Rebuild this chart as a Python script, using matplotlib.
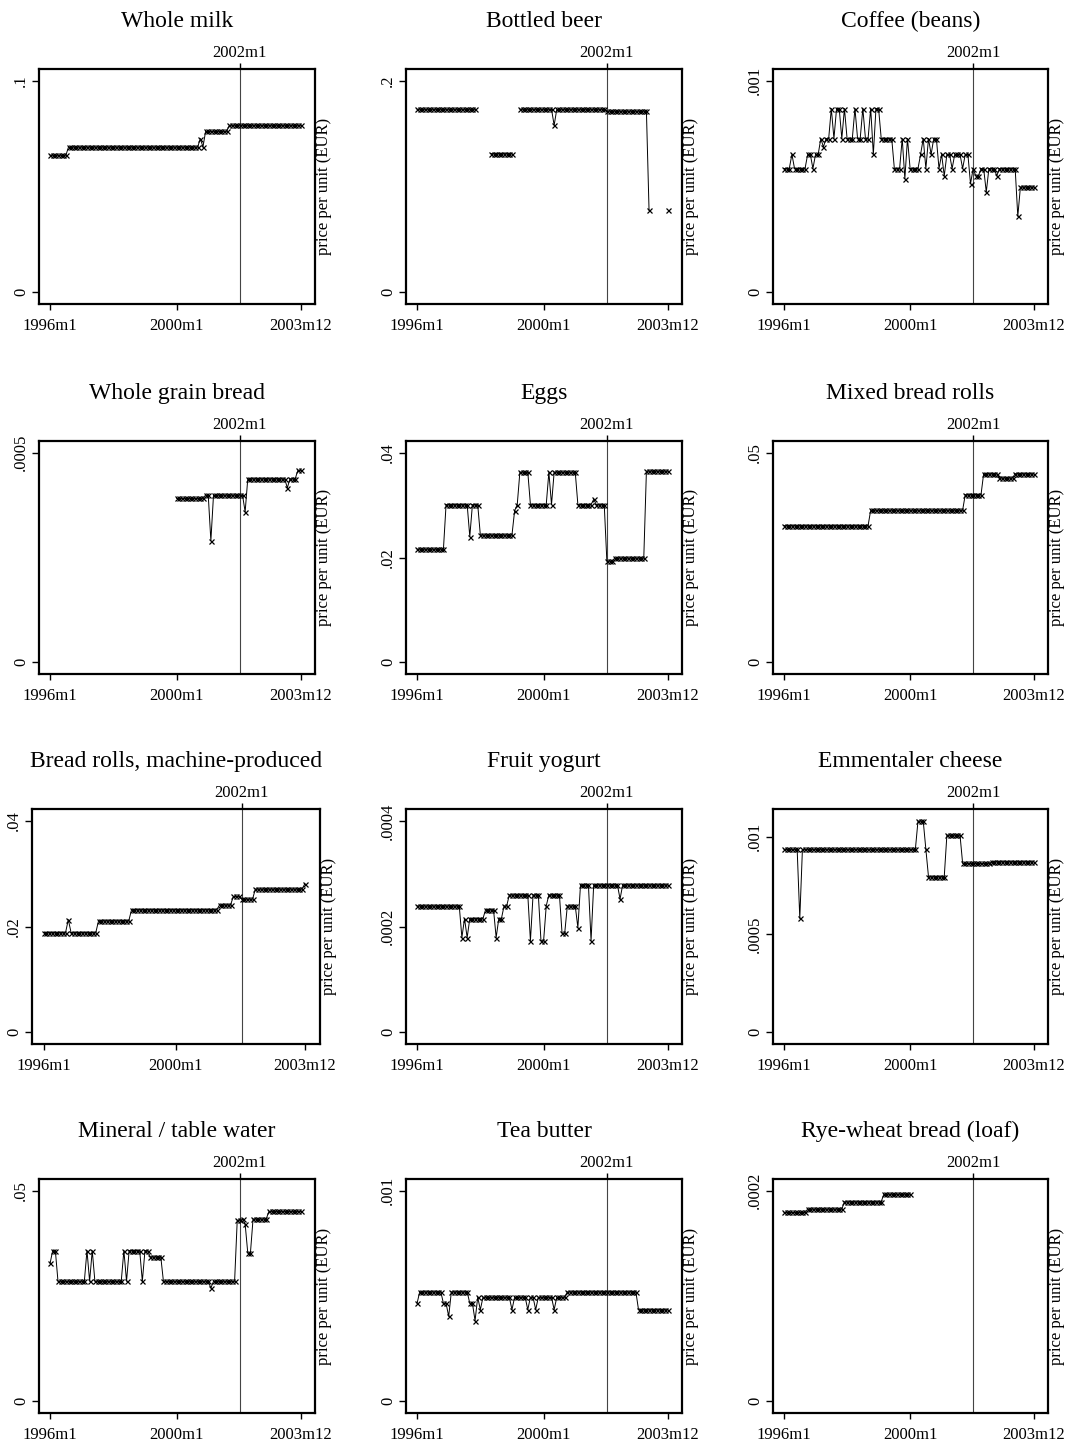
import numpy as np
import matplotlib
matplotlib.use('Agg')
import matplotlib.pyplot as plt

plt.rcParams['font.family'] = ['Liberation Serif', 'DejaVu Serif']

nan = np.nan
months = np.arange(96)  # 1996m1 .. 2003m12
month_ticks = [0, 48, 95]
month_labels = ['1996m1', '2000m1', '2003m12']
euro_month = 72  # 2002m1

# price levels and how many months each level lasts
milk_lvl = [0.0648, 0.0687, 0.0727, 0.0687, 0.0761, 0.0790]
milk_run = [7, 50, 1, 1, 9, 28]

beer_lvl = [0.1731, nan, 0.1311, nan, 0.1731, 0.158, 0.1731, 0.1713, 0.0774, nan, 0.0774]
beer_run = [23, 5, 9, 2, 13, 1, 19, 16, 1, 6, 1]

A, B, C, D, E = 0.000585, 0.000652, 0.000727, 0.000687, 0.000869
F, G, Hh, I, J, K = 0.000537, 0.00055, 0.000513, 0.000474, 0.000359, 0.000498
coffee = [A, A, A, B, A, A, A, A, A, B, B, A,
          B, B, C, D, C, C, E, C, E, E, C, E,
          C, C, C, E, C, C, E, C, C, E, B, E,
          E, C, C, C, C, C, A, A, A, C, F, C,
          A, A, A, A, B, C, A, C, B, C, C, A,
          B, G, B, B, A, B, B, B, A, B, B, Hh,
          A, G, G, A, A, I, A, A, A, G, A, A,
          A, A, A, A, A, J, K, K, K, K, K, K]

grain_lvl = [nan, 0.000391, 0.000399, 0.00029, 0.000399, 0.000359, 0.000438, 0.000416, 0.000438, 0.000458]
grain_run = [48, 11, 2, 1, 12, 1, 15, 1, 3, 2]

eggs_lvl = [0.0216, 0.0301, 0.024, 0.0301, 0.0243, 0.0289, 0.0301, 0.0363, 0.0301, 0.0363,
            0.0301, 0.0363, 0.0301, 0.0311, 0.0301, 0.0193, 0.0199, 0.0365]
eggs_run = [11, 9, 1, 3, 13, 1, 1, 4, 7, 1, 1, 9, 6, 1, 4, 3, 12, 9]

mixed_lvl = [0.0326, 0.0363, 0.040, 0.045, 0.044, 0.045]
mixed_run = [33, 36, 7, 6, 6, 8]

rolls_lvl = [0.01886, 0.0213, 0.01886, 0.0211, 0.0232, 0.0241, 0.0257, 0.0252, 0.0271, 0.0281]
rolls_run = [9, 1, 10, 12, 32, 5, 3, 5, 18, 1]

yog_lvl = [0.000239, 0.000179, 0.000215, 0.000179, 0.000215, 0.000232, 0.000179, 0.000215,
           0.000239, 0.00026, 0.000173, 0.00026, 0.000173, 0.000239, 0.00026, 0.000187,
           0.000239, 0.000198, 0.000279, 0.000173, 0.000279, 0.000252, 0.000279]
yog_run = [17, 1, 1, 1, 6, 4, 1, 2, 2, 8, 1, 3, 2, 1, 5, 2, 4, 1, 4, 1, 10, 1, 18]

emm_lvl = [0.000935, 0.000581, 0.000935, 0.00108, 0.000935, 0.000795, 0.001008, 0.000863, 0.000872]
emm_run = [6, 1, 44, 3, 1, 7, 6, 11, 17]

water_lvl = [0.03275, 0.0358, 0.0285, 0.0358, 0.0285, 0.0358, 0.0285, 0.0358, 0.0285, 0.0358,
             0.0285, 0.0358, 0.0343, 0.0285, 0.0269, 0.0285, 0.043, 0.0434, 0.0421, 0.0352,
             0.0433, 0.0451]
water_run = [1, 2, 11, 1, 1, 1, 11, 1, 1, 5, 1, 2, 5, 18, 1, 9, 2, 1, 1, 2, 6, 13]

tea_lvl = [0.000465, 0.00052, 0.000465, 0.000403, 0.00052, 0.000465, 0.000383, 0.000494,
           0.000435, 0.000494, 0.000435, 0.000494, 0.000435, 0.000494, 0.000435, 0.000494,
           0.000435, 0.000494, 0.00052, 0.000435]
tea_run = [1, 9, 2, 1, 7, 2, 1, 1, 1, 11, 1, 5, 1, 2, 1, 6, 1, 4, 27, 12]

rye_lvl = [0.0001794, 0.0001826, 0.0001896, 0.0001968, nan]
rye_run = [9, 14, 15, 11, 47]


def expand(lvl, run):
    return np.repeat(np.array(lvl, dtype=float), run)


panels = [
    ('Whole milk', expand(milk_lvl, milk_run), [0, 0.1], ['0', '.1'], None),
    ('Bottled beer', expand(beer_lvl, beer_run), [0, 0.2], ['0', '.2'], None),
    ('Coffee (beans)', np.array(coffee), [0, 0.001], ['0', '.001'], None),
    ('Whole grain bread', expand(grain_lvl, grain_run), [0, 0.0005], ['0', '.0005'], None),
    ('Eggs', expand(eggs_lvl, eggs_run), [0, 0.02, 0.04], ['0', '.02', '.04'], None),
    ('Mixed bread rolls', expand(mixed_lvl, mixed_run), [0, 0.05], ['0', '.05'], None),
    ('Bread rolls, machine-produced', expand(rolls_lvl, rolls_run), [0, 0.02, 0.04], ['0', '.02', '.04'], None),
    ('Fruit yogurt', expand(yog_lvl, yog_run), [0, 0.0002, 0.0004], ['0', '.0002', '.0004'], None),
    ('Emmentaler cheese', expand(emm_lvl, emm_run), [0, 0.0005, 0.001], ['0', '.0005', '.001'], (-0.000063, 0.001142)),
    ('Mineral / table water', expand(water_lvl, water_run), [0, 0.05], ['0', '.05'], None),
    ('Tea butter', expand(tea_lvl, tea_run), [0, 0.001], ['0', '.001'], None),
    ('Rye-wheat bread (loaf)', expand(rye_lvl, rye_run), [0, 0.0002], ['0', '.0002'], None),
]

# plot boxes in pixels: left, right, top, bottom
W, H = 1076, 1443
col_x = [(39, 315), (406, 682), (773, 1048)]
row_y = [(69, 304), (441, 674), (809, 1044), (1179, 1413)]

fig = plt.figure(figsize=(W / 100, H / 100), dpi=100)

for i, (title, y, yt, ytl, ylim) in enumerate(panels):
    r, c = divmod(i, 3)
    x0, x1 = col_x[c]
    if i == 6:
        x0, x1 = 32, 320
    y0, y1 = row_y[r]
    ax = fig.add_axes([x0 / W, 1 - y1 / H, (x1 - x0) / W, (y1 - y0) / H])

    ax.plot(months, y, color='black', lw=0.7, marker='x', ms=3.6, mew=0.9)
    ax.axvline(euro_month, color='#444444', lw=0.8, zorder=1)

    ax.set_xlim(-4.2, 100.5)
    top = yt[-1]
    if ylim is None:
        ylim = (-0.056 * top, 1.056 * top)
    ax.set_ylim(*ylim)

    ax.set_xticks(month_ticks)
    ax.set_xticklabels(month_labels, fontsize=12)
    ax.set_yticks(yt)
    ax.set_yticklabels(ytl, fontsize=12, rotation=90, va='center')
    ax.tick_params(axis='x', length=4, width=1, pad=6)
    ax.tick_params(axis='y', length=5, width=1, pad=2)

    sec = ax.secondary_xaxis('top')
    sec.set_xticks([euro_month])
    sec.set_xticklabels(['2002m1'], fontsize=12)
    sec.tick_params(length=4.5, width=1, pad=1)
    sec.spines['top'].set_visible(False)

    for s in ax.spines.values():
        s.set_linewidth(1.6)

    ax.annotate(title, xy=(0.5, 1), xycoords='axes fraction', xytext=(0, 30),
                textcoords='offset points', ha='center', va='baseline', fontsize=17)
    ax.annotate('price per unit (EUR)', xy=(1, 0.5), xycoords='axes fraction',
                xytext=(0.5, 0), textcoords='offset points', ha='left', va='center',
                rotation=90, fontsize=12)

plt.savefig('out.png', dpi=100)
